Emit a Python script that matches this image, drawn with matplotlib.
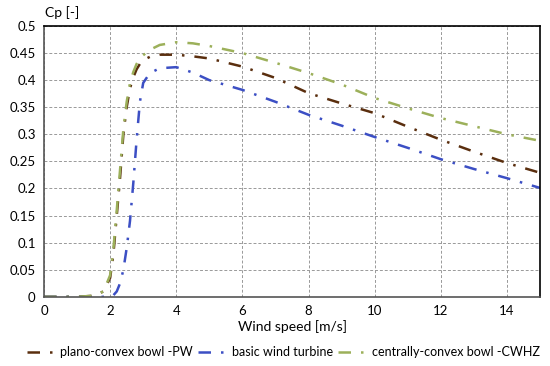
import numpy as np
import matplotlib.pyplot as plt

plt.rcParams['font.family'] = ['Lato', 'DejaVu Sans']

# wind speed [m/s]
wind = [0, 1.0, 1.5, 1.8, 2.0, 2.1, 2.2, 2.3, 2.4, 2.5, 2.6, 2.7, 2.8, 2.9, 3.0, 3.2, 3.5, 4.0,
        4.5, 5.0, 6.0, 7.0, 8.0, 9.0, 10.0, 11.0, 12.0, 13.0, 14.0, 15.0]

cp_pw = [0, 0.0, 0.002, 0.01, 0.035, 0.08, 0.15, 0.22, 0.30, 0.35, 0.385, 0.405, 0.42, 0.43,
         0.437, 0.443, 0.447, 0.447, 0.444, 0.44, 0.425, 0.404, 0.376, 0.357, 0.339, 0.314,
         0.29, 0.268, 0.247, 0.229]
cp_cwhz = [0, 0.0, 0.002, 0.01, 0.04, 0.09, 0.16, 0.235, 0.31, 0.36, 0.395, 0.415, 0.43, 0.44,
           0.446, 0.456, 0.465, 0.47, 0.468, 0.463, 0.45, 0.432, 0.413, 0.392, 0.367, 0.348,
           0.33, 0.315, 0.30, 0.288]
cp_basic = [0, 0, 0, 0, 0.0, 0.003, 0.01, 0.025, 0.05, 0.09, 0.14, 0.21, 0.29, 0.36,
            0.395, 0.413, 0.422, 0.424, 0.414, 0.40, 0.382, 0.36, 0.336, 0.316, 0.295, 0.275,
            0.254, 0.236, 0.219, 0.201]

labels = ["plano-convex bowl -PW", "basic wind turbine", "centrally-convex bowl -CWHZ"]
colors = ["#5a2e0e", "#3c4fc4", "#9cb05a"]

fig = plt.figure(figsize=(5.5, 3.66), dpi=100)
ax = fig.add_axes([0.08, 0.189, 0.902, 0.74])

ls = (0, (5, 4, 1, 4))
for y, lab, c in zip([cp_pw, cp_basic, cp_cwhz], labels, colors):
    ax.plot(wind, y, color=c, lw=1.8, ls=ls, label=lab)

ax.set_xlim(0, 15)
ax.set_ylim(0, 0.5)
ax.set_xticks(np.arange(0, 15, 2))
ax.set_yticks(np.arange(0, 0.51, 0.05))
ax.set_yticklabels(["0", "0.05", "0.1", "0.15", "0.2", "0.25", "0.3", "0.35", "0.4",
                    "0.45", "0.5"])
ax.grid(True, color="#999999", ls=(0, (3, 2)), lw=0.7)
ax.tick_params(labelsize=9.5, length=0, pad=6)
for s in ax.spines.values():
    s.set_linewidth(1.2)
ax.spines["left"].set_color("#555555")
ax.spines["bottom"].set_color("#555555")

ax.set_xlabel("Wind speed [m/s]", fontsize=10, labelpad=2)
fig.text(0.082, 0.965, "Cp [-]", fontsize=10, va="center", ha="left")

fig.legend(loc="center", bbox_to_anchor=(0.515, 0.038), ncol=3, frameon=False,
           fontsize=9, handlelength=2.6, handletextpad=0.1, columnspacing=0.4)

fig.savefig("out.png", dpi=100)
